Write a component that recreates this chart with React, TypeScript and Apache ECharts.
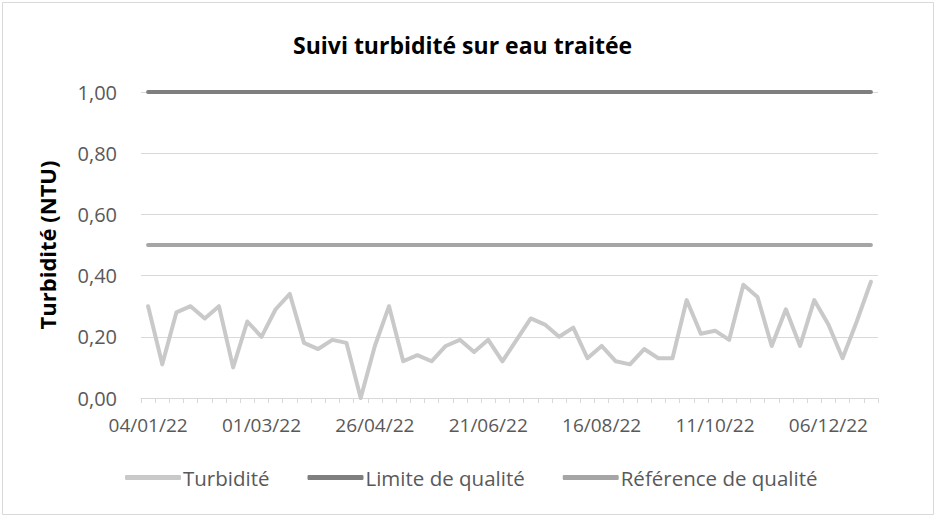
import React, { useEffect, useRef } from "react";
import * as echarts from "echarts";

const dates = [
  "04/01/22","11/01/22","18/01/22","25/01/22","01/02/22","08/02/22","15/02/22","22/02/22",
  "01/03/22","08/03/22","15/03/22","22/03/22","29/03/22","05/04/22","12/04/22","19/04/22",
  "26/04/22","03/05/22","10/05/22","17/05/22","24/05/22","31/05/22","07/06/22","14/06/22",
  "21/06/22","28/06/22","05/07/22","12/07/22","19/07/22","26/07/22","02/08/22","09/08/22",
  "16/08/22","23/08/22","30/08/22","06/09/22","13/09/22","20/09/22","27/09/22","04/10/22",
  "11/10/22","18/10/22","25/10/22","01/11/22","08/11/22","15/11/22","22/11/22","29/11/22",
  "06/12/22","13/12/22","20/12/22","27/12/22",
];

const turbidite = [
  0.30, 0.11, 0.28, 0.30, 0.26, 0.30, 0.10, 0.25,
  0.20, 0.29, 0.34, 0.18, 0.16, 0.19, 0.18, 0.00,
  0.17, 0.30, 0.12, 0.14, 0.12, 0.17, 0.19, 0.15,
  0.19, 0.12, 0.19, 0.26, 0.24, 0.20, 0.23, 0.13,
  0.17, 0.12, 0.11, 0.16, 0.13, 0.13, 0.32, 0.21,
  0.22, 0.19, 0.37, 0.33, 0.17, 0.29, 0.17, 0.32,
  0.24, 0.13, 0.25, 0.38,
];

const limiteValue = 1.0;
const referenceValue = 0.5;
const limite = dates.map(() => limiteValue);
const reference = dates.map(() => referenceValue);

const seriesNames = ["Turbidité", "Limite de qualité", "Référence de qualité"];
const title = "Suivi turbidité sur eau traitée";
const yAxisName = "Turbidité (NTU)";

export default function App() {
  const ref = useRef<HTMLDivElement>(null);
  useEffect(() => {
    if (!ref.current) return;
    const chart = echarts.init(ref.current, null, { renderer: "svg" });
    const font = "'Open Sans', 'Noto Sans', sans-serif";
    chart.setOption({
      animation: false,
      backgroundColor: "#ffffff",
      textStyle: { fontFamily: font },
      title: {
        text: title,
        left: 288,
        top: 28,
        textStyle: { fontSize: 23, fontWeight: "bold", color: "#000000", fontFamily: font },
      },
      graphic: [
        {
          type: "rect",
          shape: { x: 2.5, y: 2.5, width: 931, height: 512 },
          style: { fill: "none", stroke: "#d9d9d9", lineWidth: 1 },
          silent: true,
        },
      ],
      legend: {
        top: 462,
        left: 120,
        itemWidth: 56,
        itemHeight: 5,
        itemGap: 38,
        icon: "roundRect",
        textStyle: { fontSize: 20.5, color: "#595959", fontFamily: font, padding: [0, 0, 0, -3] },
        data: seriesNames,
      },
      grid: { left: 141, right: 58, top: 92, bottom: 119 },
      xAxis: {
        type: "category",
        data: dates,
        boundaryGap: true,
        axisLine: { lineStyle: { color: "#d9d9d9", width: 1 } },
        axisTick: { show: true, interval: 0, length: 5, lineStyle: { color: "#d9d9d9" } },
        axisLabel: { interval: 7, color: "#595959", fontSize: 19, margin: 17, fontFamily: font },
        splitLine: { show: false },
      },
      yAxis: {
        type: "value",
        min: 0,
        max: 1,
        interval: 0.2,
        name: yAxisName,
        nameLocation: "middle",
        nameGap: 83,
        nameRotate: 90,
        nameTextStyle: { fontSize: 22, fontWeight: "bold", color: "#000000", fontFamily: font },
        axisLine: { show: false },
        axisTick: { show: false },
        axisLabel: {
          color: "#595959",
          fontSize: 20,
          margin: 24,
          fontFamily: font,
          formatter: (v: number) => v.toFixed(2).replace(".", ","),
        },
        splitLine: { lineStyle: { color: "#d9d9d9", width: 1 } },
      },
      series: [
        {
          name: seriesNames[0],
          type: "line",
          data: turbidite,
          symbol: "none",
          lineStyle: { color: "#c9c9c9", width: 4, cap: "round", join: "round" },
          itemStyle: { color: "#c9c9c9" },
        },
        {
          name: seriesNames[1],
          type: "line",
          data: limite,
          symbol: "none",
          lineStyle: { color: "#7f7f7f", width: 4, cap: "round" },
          itemStyle: { color: "#7f7f7f" },
        },
        {
          name: seriesNames[2],
          type: "line",
          data: reference,
          symbol: "none",
          lineStyle: { color: "#a5a5a5", width: 4, cap: "round" },
          itemStyle: { color: "#a5a5a5" },
        },
      ],
    });
    return () => chart.dispose();
  }, []);
  return <div ref={ref} style={{ width: 936, height: 517, position: "absolute", left: 0, top: 0 }} />;
}
